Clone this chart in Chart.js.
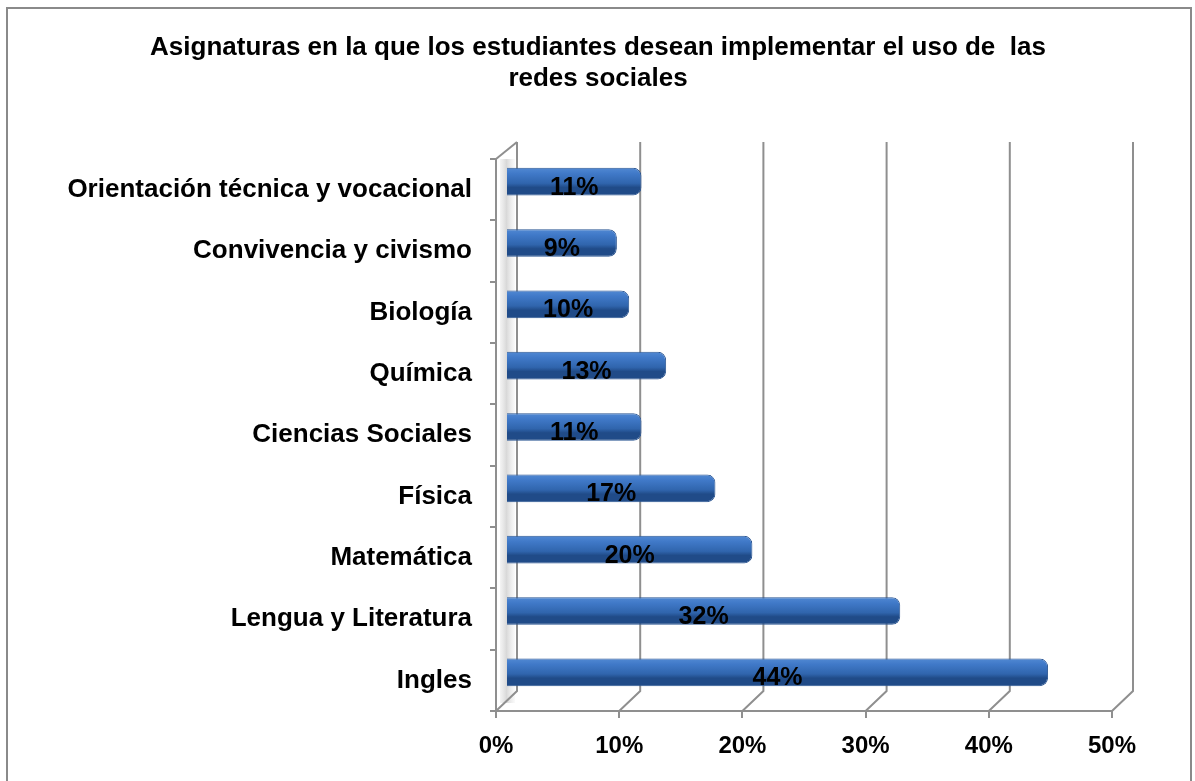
<!DOCTYPE html>
<html>
<head>
<meta charset="utf-8">
<script src="https://cdn.jsdelivr.net/npm/chart.js@4/dist/chart.umd.min.js"></script>
<style>
  html, body { margin: 0; padding: 0; background: #fff; }
  #wrap { position: relative; width: 1195px; height: 781px; }
  #frame { position: absolute; left: 6px; top: 7px; width: 1186px; height: 790px; border: 2px solid #8a8a8a; box-sizing: border-box; }
</style>
</head>
<body>
<div id="wrap">
  <div id="frame"></div>
  <canvas id="subjectsChart" width="1195" height="781"></canvas>
</div>
<script>
// Subjects where students want to use social networks (top to bottom)
const subjects = [
    'Orientación técnica y vocacional',
    'Convivencia y civismo',
    'Biología',
    'Química',
    'Ciencias Sociales',
    'Física',
    'Matemática',
    'Lengua y Literatura',
    'Ingles'
];
const percentages = [11, 9, 10, 13, 11, 17, 20, 32, 44];
const tickValues = [0, 10, 20, 30, 40, 50];
const titleLines = ['Asignaturas en la que los estudiantes desean implementar el uso de  las', 'redes sociales'];

// 3D look: back wall is shifted by this much from the floor
const DEPTH_X = 21, DEPTH_Y = -20;
// bars sit halfway in depth
const BAR_X = 10, BAR_Y = -8;
const GRID = '#8f8f8f';
const FONT = '"Liberation Sans", Arial, sans-serif';

document.addEventListener('DOMContentLoaded', function() {
    const canvas = document.getElementById('subjectsChart');
    const ctx = canvas.getContext('2d');

    // walls, floor, back gridlines, value labels and title
    const wallPlugin = {
        id: 'wall3d',
        beforeDatasetsDraw(chart) {
            const c = chart.ctx;
            const xs = chart.scales.x, area = chart.chartArea;
            c.save();
            // side wall shading
            const g = c.createLinearGradient(area.left, 0, area.left + DEPTH_X, 0);
            g.addColorStop(0, 'rgba(200,200,200,0)');
            g.addColorStop(0.5, 'rgba(170,170,170,0.45)');
            g.addColorStop(1, 'rgba(200,200,200,0)');
            c.fillStyle = g;
            c.fillRect(area.left + 4, area.top, DEPTH_X - 6, area.bottom - area.top - 8);

            c.strokeStyle = GRID;
            c.lineWidth = 2;
            tickValues.forEach(function(v) {
                const x = xs.getPixelForValue(v);
                c.beginPath();
                c.moveTo(x, area.bottom);
                c.lineTo(x + DEPTH_X, area.bottom + DEPTH_Y);
                c.lineTo(x + DEPTH_X, area.top + DEPTH_Y + 3);
                c.stroke();
            });
            // top edge of side wall
            c.beginPath();
            c.moveTo(area.left, area.top);
            c.lineTo(area.left + DEPTH_X, area.top + DEPTH_Y + 3);
            c.stroke();
            c.restore();
        },
        beforeDatasetDraw(chart) {
            chart.ctx.save();
            chart.ctx.translate(BAR_X, BAR_Y);
        },
        afterDatasetDraw(chart) {
            chart.ctx.restore();
        },
        afterDatasetsDraw(chart) {
            const c = chart.ctx;
            const meta = chart.getDatasetMeta(0);
            c.save();
            c.font = 'bold 25px ' + FONT;
            c.fillStyle = '#000';
            c.textAlign = 'center';
            c.textBaseline = 'middle';
            meta.data.forEach(function(bar, i) {
                const cx = (bar.base + bar.x) / 2 + BAR_X;
                c.fillText(percentages[i] + '%', cx, bar.y + BAR_Y + 6);
            });
            // chart title
            c.font = 'bold 26px ' + FONT;
            c.fillText(titleLines[0], 598, 48);
            c.fillText(titleLines[1], 598, 79);
            c.restore();
        }
    };

    function barFill(context) {
        const chart = context.chart;
        const ys = chart.scales.y;
        if (!ys || !chart.chartArea) return '#3d74bd';
        const band = (chart.chartArea.bottom - chart.chartArea.top) / subjects.length;
        const h = band * 0.45;
        const yc = ys.getPixelForValue(context.dataIndex) + BAR_Y;
        const g = chart.ctx.createLinearGradient(0, yc - h / 2, 0, yc + h / 2);
        g.addColorStop(0, '#8cb8ea');
        g.addColorStop(0.15, '#5c93da');
        g.addColorStop(0.5, '#4079c8');
        g.addColorStop(0.85, '#3065ad');
        g.addColorStop(1, '#204b88');
        return g;
    }

    new Chart(ctx, {
        type: 'bar',
        data: {
            labels: subjects,
            datasets: [{
                data: percentages,
                backgroundColor: barFill,
                borderColor: '#2a5592',
                borderWidth: 1,
                borderSkipped: 'start',
                borderRadius: { topRight: 8, bottomRight: 8 },
                barPercentage: 0.45,
                categoryPercentage: 1
            }]
        },
        plugins: [wallPlugin],
        options: {
            indexAxis: 'y',
            responsive: false,
            animation: false,
            layout: { padding: { left: 0, right: 83, top: 159, bottom: 0 } },
            plugins: {
                legend: { display: false },
                tooltip: { enabled: false },
                title: { display: false }
            },
            scales: {
                x: {
                    min: 0,
                    max: 50,
                    afterBuildTicks: function(scale) {
                        scale.ticks = tickValues.map(function(v) { return { value: v }; });
                    },
                    afterFit: function(scale) { scale.height = 70; },
                    ticks: {
                        callback: function(v) { return v + '%'; },
                        color: '#000',
                        padding: 14,
                        maxRotation: 0,
                        font: { family: FONT, size: 24, weight: 'bold' }
                    },
                    grid: {
                        drawOnChartArea: false,
                        drawTicks: true,
                        tickLength: 7,
                        color: GRID,
                        lineWidth: 2
                    },
                    border: { display: true, color: GRID, width: 2 }
                },
                y: {
                    afterFit: function(scale) { scale.width = 496; },
                    ticks: {
                        color: '#000',
                        padding: 18,
                        font: { family: FONT, size: 26, weight: 'bold' }
                    },
                    grid: {
                        drawOnChartArea: false,
                        drawTicks: true,
                        tickLength: 6,
                        color: GRID,
                        lineWidth: 2
                    },
                    border: { display: true, color: GRID, width: 2 }
                }
            }
        }
    });
});
</script>
</body>
</html>
